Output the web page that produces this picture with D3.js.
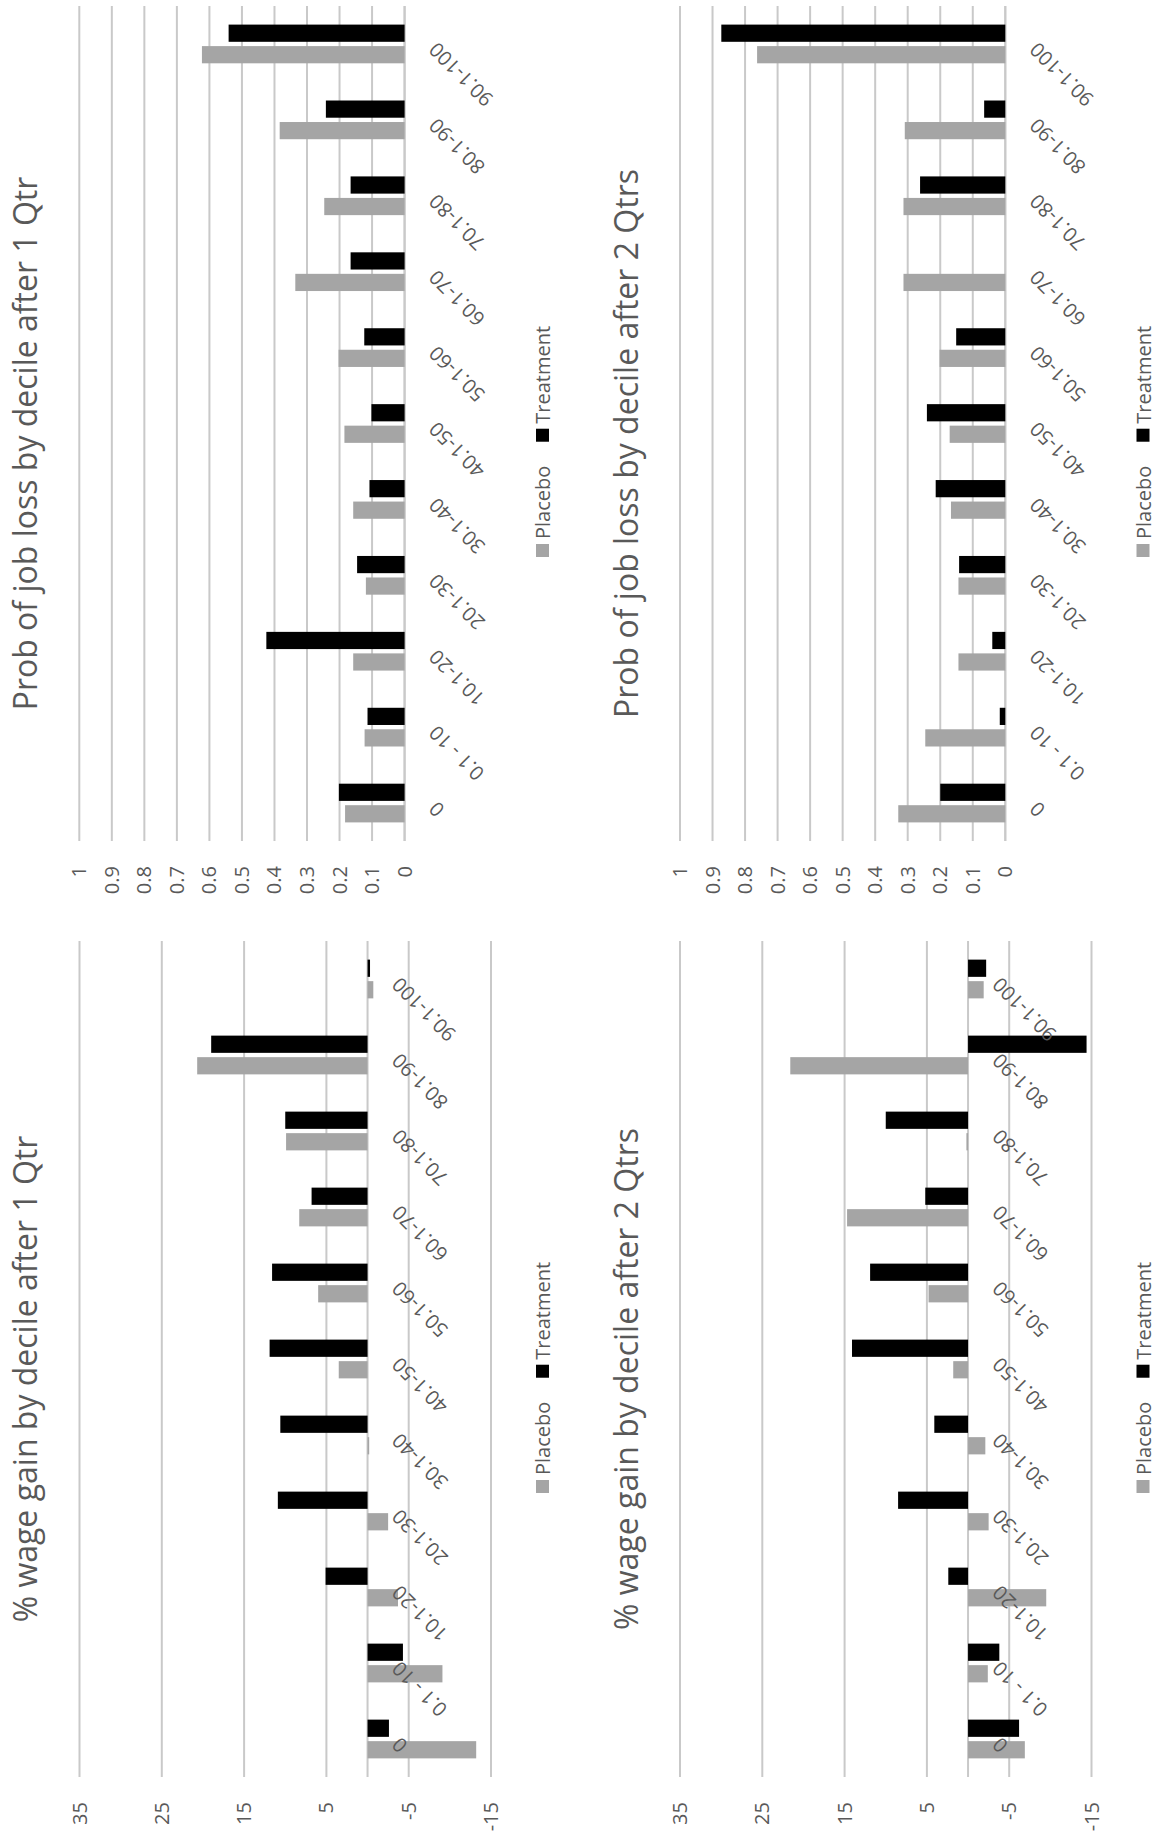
<!DOCTYPE html>
<html>
<head>
<meta charset="utf-8">
<script src="https://cdn.jsdelivr.net/npm/d3@7"></script>
<style>
  body { margin: 0; background: #fff; }
  svg { display: block; }
  text { font-family: "Open Sans", sans-serif; fill: #595959; }
</style>
</head>
<body>
<svg id="chart" width="1168" height="1836"></svg>
<script>
// Income deciles (bottom to top of each panel)
const categories = ["0", "0.1 - 10", "10.1-20", "20.1-30", "30.1-40", "40.1-50",
                    "50.1-60", "60.1-70", "70.1-80", "80.1-90", "90.1-100"];
const seriesNames = ["Placebo", "Treatment"];

// Probability of job loss
const jobLoss1Placebo   = [0.183, 0.123, 0.158, 0.119, 0.158, 0.185, 0.203, 0.336, 0.247, 0.384, 0.623];
const jobLoss1Treatment = [0.202, 0.114, 0.425, 0.146, 0.108, 0.102, 0.124, 0.166, 0.166, 0.242, 0.541];
const jobLoss2Placebo   = [0.329, 0.246, 0.144, 0.144, 0.167, 0.171, 0.202, 0.313, 0.313, 0.309, 0.763];
const jobLoss2Treatment = [0.200, 0.017, 0.040, 0.142, 0.214, 0.241, 0.151, 0.000, 0.262, 0.065, 0.873];

// Percent wage gain
const wage1Placebo   = [-13.2, -9.1, -3.7, -2.5, -0.2, 3.5, 6.0, 8.3, 9.9, 20.7, -0.7];
const wage1Treatment = [-2.6, -4.3, 5.1, 10.9, 10.6, 11.9, 11.6, 6.8, 10.0, 19.0, -0.3];
const wage2Placebo   = [-6.9, -2.4, -9.5, -2.5, -2.1, 1.8, 4.8, 14.7, 0.2, 21.6, -1.9];
const wage2Treatment = [-6.2, -3.8, 2.4, 8.5, 4.1, 14.1, 11.9, 5.2, 10.0, -14.4, -2.2];

// Value-axis ticks
const jobLossTicks = [1, 0.9, 0.8, 0.7, 0.6, 0.5, 0.4, 0.3, 0.2, 0.1, 0];
const wageTicks = [35, 25, 15, 5, -5, -15];

const colors = { Placebo: "#a5a5a5", Treatment: "#000000" };

// Each chart is laid out turned a quarter-turn counter-clockwise:
// values run right-to-left, deciles run bottom-to-top.
const panels = [
  { title: "Prob of job loss by decile after 1 Qtr", placebo: jobLoss1Placebo, treatment: jobLoss1Treatment,
    ticks: jobLossTicks, domain: [1, 0], xRange: [79.3, 404.6], yRange: [6, 841], left: 0 },
  { title: "Prob of job loss by decile after 2 Qtrs", placebo: jobLoss2Placebo, treatment: jobLoss2Treatment,
    ticks: jobLossTicks, domain: [1, 0], xRange: [680, 1005.3], yRange: [6, 841], left: 600.5 },
  { title: "% wage gain by decile after 1 Qtr", placebo: wage1Placebo, treatment: wage1Treatment,
    ticks: wageTicks, domain: [35, -15], xRange: [79.5, 491], yRange: [941, 1777], left: 0 },
  { title: "% wage gain by decile after 2 Qtrs", placebo: wage2Placebo, treatment: wage2Treatment,
    ticks: wageTicks, domain: [35, -15], xRange: [680, 1091.5], yRange: [941, 1777], left: 600.5 }
];

const svg = d3.select("#chart");
svg.append("rect").attr("width", 1168).attr("height", 1836).attr("fill", "#fff");

panels.forEach(p => {
  const g = svg.append("g");
  const x = d3.scaleLinear().domain(p.domain).range(p.xRange);
  const y = d3.scaleBand().domain(categories.slice().reverse()).range(p.yRange);
  const bw = y.bandwidth();
  const inner = d3.scaleBand().domain(["Treatment", "Placebo"])
    .range([0.245 * bw, 0.755 * bw]).paddingInner(0.2);
  const [y0, y1] = p.yRange;
  const x0 = x(0);

  // gridlines
  g.selectAll("line.grid").data(p.ticks).join("line")
    .attr("class", "grid")
    .attr("x1", d => x(d)).attr("x2", d => x(d))
    .attr("y1", y0).attr("y2", y1)
    .attr("stroke", "#c9c9c9").attr("stroke-width", 2);
  // category axis line at zero
  g.append("line")
    .attr("x1", x0).attr("x2", x0).attr("y1", y0).attr("y2", y1)
    .attr("stroke", "#c9c9c9").attr("stroke-width", 2);

  // bars
  const rows = [];
  categories.forEach((c, i) => {
    rows.push({ cat: c, series: "Placebo", value: p.placebo[i] });
    rows.push({ cat: c, series: "Treatment", value: p.treatment[i] });
  });
  g.selectAll("rect.bar").data(rows).join("rect")
    .attr("class", "bar")
    .attr("x", d => Math.min(x(d.value), x0))
    .attr("width", d => Math.abs(x(d.value) - x0))
    .attr("y", d => y(d.cat) + inner(d.series))
    .attr("height", inner.bandwidth())
    .attr("fill", d => colors[d.series]);

  // value-axis labels
  g.selectAll("text.tick").data(p.ticks).join("text")
    .attr("class", "tick")
    .attr("transform", d => `translate(${x(d)},${y1 + 25}) rotate(-90)`)
    .attr("text-anchor", "end")
    .attr("dy", "0.35em")
    .style("font-size", "20px")
    .text(d => String(d));

  // category labels
  g.selectAll("text.cat").data(categories).join("text")
    .attr("class", "cat")
    .attr("transform", d => `translate(${x0 + 33},${y(d) + bw / 2 - 3}) rotate(-135)`)
    .attr("text-anchor", "end")
    .style("font-size", "20px")
    .text(d => d);

  // title
  g.append("text")
    .attr("transform", `translate(${p.left + 37},${(y0 + y1) / 2 + 20}) rotate(-90)`)
    .attr("text-anchor", "middle")
    .style("font-size", "32px")
    .text(p.title);

  // legend
  const lx = p.left + 543;
  let cursor = y1 - 284;
  seriesNames.forEach(name => {
    g.append("rect")
      .attr("x", lx - 7).attr("y", cursor - 13)
      .attr("width", 13).attr("height", 13)
      .attr("fill", colors[name]);
    cursor -= 18;
    const t = g.append("text")
      .attr("transform", `translate(${lx + 7},${cursor}) rotate(-90)`)
      .attr("text-anchor", "start")
      .style("font-size", "20px")
      .text(name);
    cursor -= t.node().getComputedTextLength() + 24;
  });
});
</script>
</body>
</html>
